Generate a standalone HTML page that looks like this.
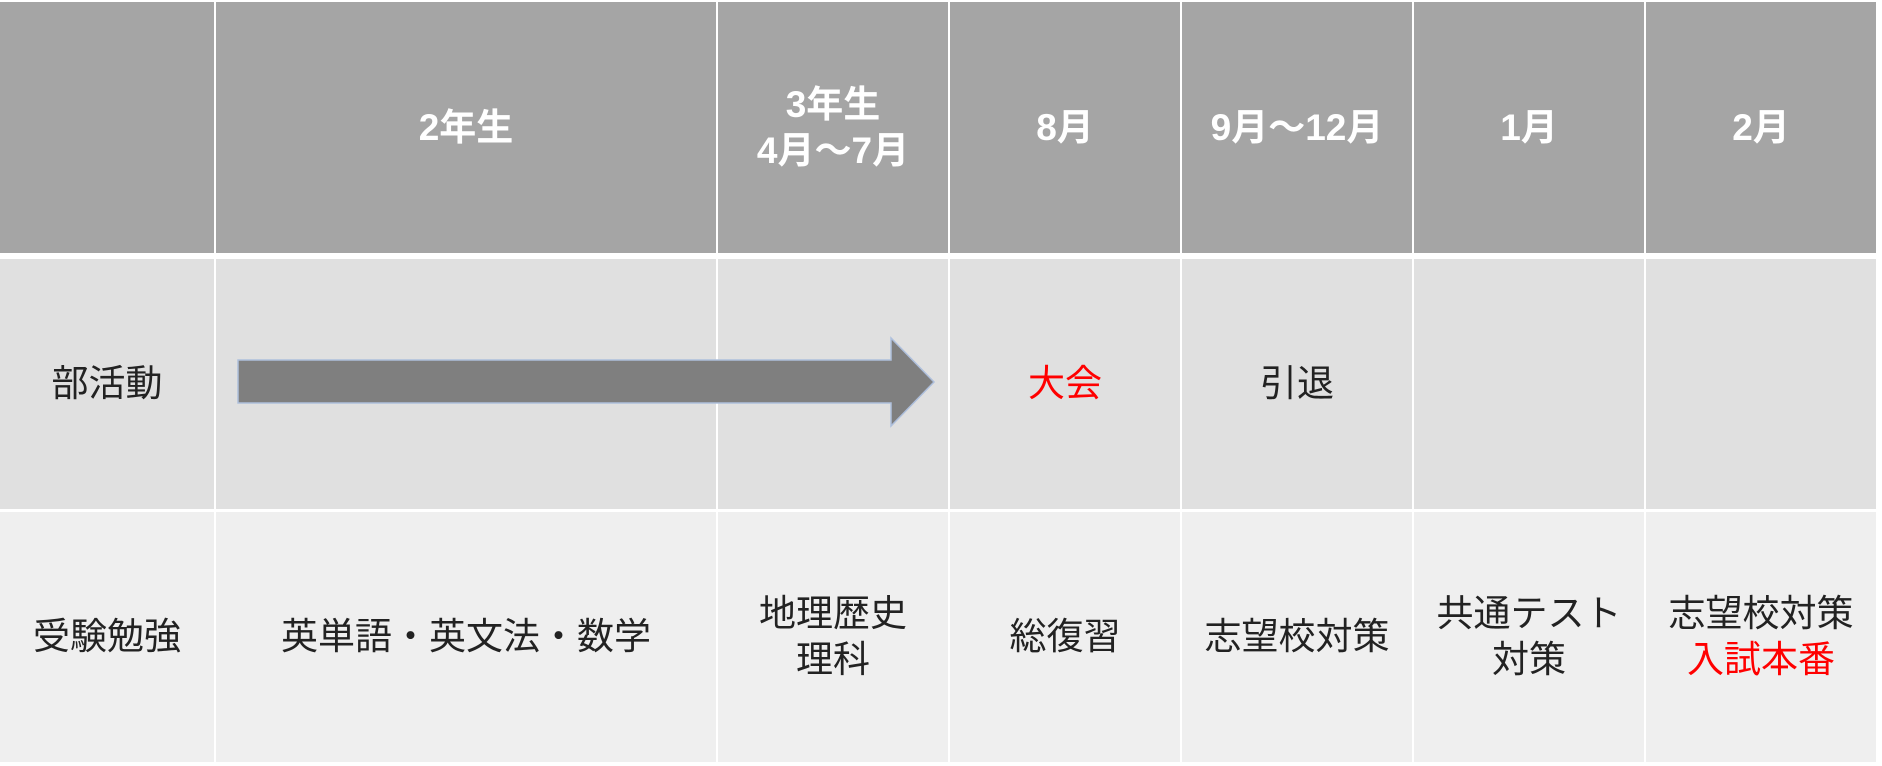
<!DOCTYPE html>
<html><head><meta charset="utf-8"><style>
html,body{margin:0;padding:0;background:#fff;width:1882px;height:766px;overflow:hidden}
.c{position:absolute;display:flex;align-items:center;justify-content:center;text-align:center;font-family:"Liberation Sans","Noto Sans CJK JP",sans-serif;font-size:37px;line-height:46px;color:#222;white-space:nowrap}
.c>div{display:block}
.h{background:#a5a5a5;color:#fff;font-weight:bold;top:2px;height:251px}
.r2{background:#e0e0e0;top:259px;height:250px}
.r3{background:#efefef;top:512px;height:250px}
.red{color:#f00}
</style></head><body>
<div class="c h" style="left:0;width:214px"></div>
<div class="c h" style="left:216px;width:500px"><div>2年生</div></div>
<div class="c h" style="left:718px;width:230px"><div>3年生<br>4月～7月</div></div>
<div class="c h" style="left:950px;width:230px"><div>8月</div></div>
<div class="c h" style="left:1182px;width:230px"><div>9月～12月</div></div>
<div class="c h" style="left:1414px;width:230px"><div>1月</div></div>
<div class="c h" style="left:1646px;width:230px"><div>2月</div></div>

<div class="c r2" style="left:0;width:214px"><div>部活動</div></div>
<div class="c r2" style="left:216px;width:500px"></div>
<div class="c r2" style="left:718px;width:230px"></div>
<div class="c r2 red" style="left:950px;width:230px"><div>大会</div></div>
<div class="c r2" style="left:1182px;width:230px"><div>引退</div></div>
<div class="c r2" style="left:1414px;width:230px"></div>
<div class="c r2" style="left:1646px;width:230px"></div>

<div class="c r3" style="left:0;width:214px"><div>受験勉強</div></div>
<div class="c r3" style="left:216px;width:500px"><div>英単語・英文法・数学</div></div>
<div class="c r3" style="left:718px;width:230px"><div>地理歴史<br>理科</div></div>
<div class="c r3" style="left:950px;width:230px"><div>総復習</div></div>
<div class="c r3" style="left:1182px;width:230px"><div>志望校対策</div></div>
<div class="c r3" style="left:1414px;width:230px"><div>共通テスト<br>対策</div></div>
<div class="c r3" style="left:1646px;width:230px"><div>志望校対策<br><span class="red">入試本番</span></div></div>

<svg style="position:absolute;left:0;top:0" width="1882" height="766">
<polygon points="238,360 891,360 891,338 934,382 891,426 891,403 238,403" fill="#7f7f7f" stroke="#aebfdc" stroke-width="1.5"/>
</svg>
</body></html>
